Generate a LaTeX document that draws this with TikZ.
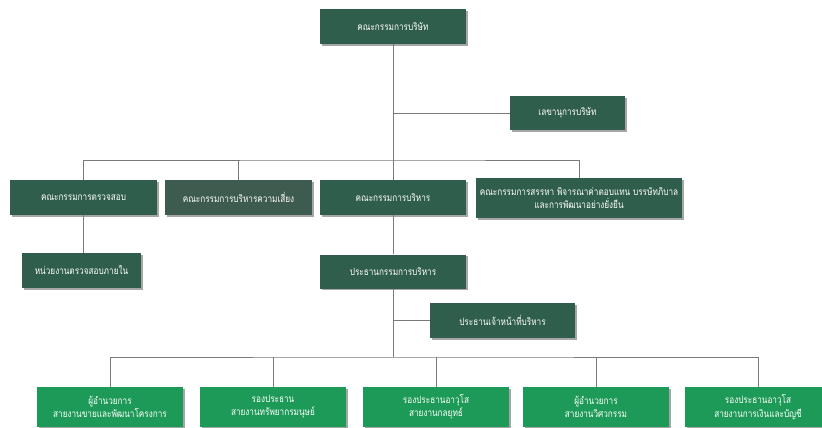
\documentclass[tikz,border=0pt]{standalone}
\usepackage{fontspec}
\newfontfamily\thaifont[Script=Thai,FakeStretch=0.82]{Loma}
\usetikzlibrary{shadows}
\definecolor{boarddark}{HTML}{2F5E4C}
\definecolor{riskgrey}{HTML}{3E5B50}
\definecolor{linegreen}{HTML}{1D9A57}
\definecolor{wiregrey}{HTML}{7A7A7A}
\begin{document}
\begin{tikzpicture}
[x=0.75pt,y=-0.75pt,
  boxdecorate/.style={shape=rectangle,inner sep=1pt,text=white,align=center,
    font=\thaifont\fontsize{7.5}{10}\selectfont,
    drop shadow={shadow xshift=1.2pt,shadow yshift=-1.2pt,opacity=0.35,fill=black}},
  wiredecorate/.style={draw=wiregrey,line width=0.6pt}]
\fill[white] (0,0) rectangle (822,428);
\useasboundingbox (0,0) rectangle (822,428);
%% upper boxes
\foreach \nodename/\x/\y/\w/\h/\shade/\label in {
  board/393/26.5/146/35/boarddark/{คณะกรรมการบริษัท},
  secretary/567.5/113/115/34/boarddark/{เลขานุการบริษัท},
  audit/83.5/197.5/147/35/boarddark/{คณะกรรมการตรวจสอบ},
  risk/238.5/197.5/147/35/riskgrey/{คณะกรรมการบริหารความเสี่ยง},
  exec/393/197.5/146/35/boarddark/{คณะกรรมการบริหาร},
  nominate/579/198/206/40/boarddark/{คณะกรรมการสรรหา พิจารณาค่าตอบแทน บรรษัทภิบาล\\และการพัฒนาอย่างยั่งยืน},
  internal/81.5/270.5/119/35/boarddark/{หน่วยงานตรวจสอบภายใน},
  chair/393/271.5/146/34/boarddark/{ประธานกรรมการบริหาร},
  ceo/502.5/320.5/145/35/boarddark/{ประธานเจ้าหน้าที่บริหาร}} {
  \node (\nodename) at (\x,\y) [boxdecorate,fill=\shade,
    minimum width=\w*0.75pt,minimum height=\h*0.75pt] {\label};
}
%% lower boxes
\foreach \nodename/\x/\label in {
  sales/110/{ผู้อำนวยการ\\สายงานขายและพัฒนาโครงการ},
  human/273/{รองประธาน\\สายงานทรัพยากรมนุษย์},
  strategy/436/{รองประธานอาวุโส\\สายงานกลยุทธ์},
  engineer/596/{ผู้อำนวยการ\\สายงานวิศวกรรม},
  finance/758/{รองประธานอาวุโส\\สายงานการเงินและบัญชี}} {
  \node (\nodename) at (\x,407) [boxdecorate,fill=linegreen,
    minimum width=146*0.75pt,minimum height=40*0.75pt] {\label};
}
%% junctions
\coordinate (upperbus) at (393,160);
\coordinate (lowerbus) at (393,357);
%% lines
\draw[wiredecorate] (board) -- (exec);
\draw[wiredecorate] (secretary.west) -- (secretary.west -| board.south);
\draw[wiredecorate] (audit.north) |- (upperbus) -| (nominate.north);
\draw[wiredecorate] (risk.north) -- (risk.north |- upperbus);
\draw[wiredecorate] (audit.south) -- (audit.south |- internal.north);
\draw[wiredecorate] (exec) -- (chair);
\draw[wiredecorate] (chair.south) -- (lowerbus);
\draw[wiredecorate] (ceo.west) -- (ceo.west -| chair.south);
\draw[wiredecorate] (sales.north) |- (lowerbus) -| (finance.north);
\foreach \endnode in {human, strategy, engineer} {
  \draw[wiredecorate] (\endnode.north) -- (\endnode.north |- lowerbus);
}
\end{tikzpicture}
\end{document}
